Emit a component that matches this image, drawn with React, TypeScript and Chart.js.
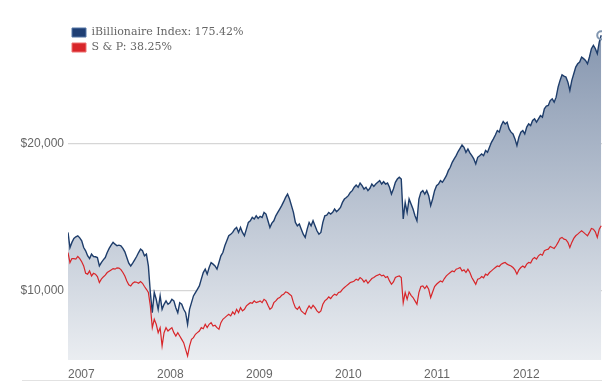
import React, { useEffect, useRef } from "react";
import { Chart, registerables } from "chart.js";

Chart.register(...registerables);

const seriesNames = ["iBillionaire Index: 175.42%", "S & P: 38.25%"];
const yearTicks = [2007, 2008, 2009, 2010, 2011, 2012];
const valueTicks = [10000, 20000];
const startYear = 2007;
const endYear = 2013;
const samplesPerYear = 45.4;

const billionaireValues = [
  13980, 12950, 13300, 13570, 13680, 13750, 13610, 13410, 12950, 12730,
  12390, 12200, 12500, 12340, 12320, 12270, 11700, 11930, 12110, 12270,
  12610, 12890, 13110, 13300, 13180, 13070, 13110, 13070, 12890, 12660,
  12270, 11890, 11700, 11890, 12110, 12340, 12610, 12840, 12730, 12390,
  12500, 11700,
  9890, 8520, 9890, 9430, 8750,
  9660, 8750, 9090, 9320, 9090, 9200, 9430, 9320, 8860, 8520,
  9200, 9090, 8750, 8520, 7730, 8750, 9200, 9660, 9890, 10110,
  10340, 10800, 11250, 11480, 11140, 11590, 11930, 11820, 11700, 11480,
  11930, 12390, 12610, 13070, 13410, 13750, 13860, 13980, 14200, 14320,
  13980, 14320, 13980, 13750, 14200, 14660, 14770, 15000, 14890, 15110,
  14930, 15070, 15000, 15340, 15230, 14770, 14320, 14610, 14770, 15110,
  15340, 15570, 15800, 16070, 16360, 16590, 16250, 15800, 15340, 14660,
  14430, 14550, 14200, 13860, 13640, 14200, 14660, 14430, 14770, 14430,
  14090, 13860, 13980, 14660, 15110, 15160, 15340, 15230, 15340, 15570,
  15390, 15520, 15680, 16020, 16250, 16360, 16480, 16700, 16820, 17050,
  17200, 17050, 17340, 17160, 16930, 17050, 16820, 16980, 17270, 17110,
  17270, 17390, 17500, 17270, 17430, 17270, 17340, 17050, 16590, 16930,
  17390, 17610, 17730, 17610, 14890, 16020, 15340, 16250, 15910, 15570,
  15110, 14770, 16250, 16700, 16820, 16590, 16820, 16480, 15800, 16250,
  16820, 17160, 17270, 17500, 17390, 17610, 17840, 18180, 18410, 18750,
  18980, 19200, 19480, 19700, 19930, 19770, 19430, 19660, 19390, 19200,
  18980, 18640, 19090, 19200, 19320, 19200, 19550, 19430, 19770, 20110,
  20340, 20610, 20910, 20800, 21250, 21520, 21360, 21480, 21020, 20800,
  20680, 20340, 19890, 20450, 20800, 20910, 20680, 21140, 21360, 21250,
  21590, 21700, 21480, 21700, 21930, 21820, 22390, 22570, 22610, 22950,
  23070, 22840, 23180, 23860, 24320, 24700, 24610, 24550, 24200, 23640,
  24320, 24770, 25230, 25450, 25570, 25910, 25800, 25680, 25450, 25910,
  26480, 26700, 26480, 26140, 26930, 27390,
];

const spValues = [
  12610, 11930, 12200, 12200, 12160, 12340, 12200, 11980, 11700, 11200,
  11140, 11360, 11020, 11200, 11140, 10980, 10570, 10800, 10950, 11070,
  11250, 11340, 11430, 11520, 11480, 11570, 11550, 11450, 11250, 11020,
  10680, 10410, 10340, 10520, 10610, 10590, 10520, 10640, 10520, 10300,
  10110, 9890,
  8980, 7500, 8070, 7730, 7160,
  7500, 6250, 7160, 7500, 7270, 7390, 7500, 7160, 6930, 7160,
  6930, 6700, 6480, 6020, 5570, 6250, 6700, 6820, 7050, 7160,
  7270, 7500, 7430, 7730, 7500, 7730, 7840, 7610, 7660, 7500,
  7390, 7840, 8070, 8180, 8300, 8410, 8300, 8570, 8410, 8750,
  8520, 8860, 8640, 8750, 8980, 9090, 9200, 9160, 9320, 9200,
  9250, 9320, 9200, 9430, 9320, 9020, 8750, 8860, 9200, 9320,
  9480, 9550, 9700, 9770, 9930, 9890, 9770, 9660, 9200, 8860,
  8750, 8930, 8640, 8520, 8410, 8750, 8980, 8800, 9020, 8860,
  8640, 8520, 8640, 9090, 9320, 9430, 9590, 9480, 9660, 9770,
  9700, 9890, 9930, 10110, 10230, 10340, 10450, 10570, 10610, 10680,
  10800, 10730, 10910, 10800, 10610, 10750, 10520, 10680, 10840, 10910,
  11020, 11070, 11140, 11020, 11070, 10910, 10980, 10680, 10450, 10610,
  10910, 10980, 11020, 10910, 9200, 9890, 9430, 9930, 9700, 9550,
  9320, 9090, 9890, 10300, 10340, 10160, 10340, 10110, 9550, 9930,
  10300, 10450, 10570, 10680, 10610, 10840, 11020, 11140, 11250, 11360,
  11300, 11480, 11520, 11590, 11360, 11430, 11250, 11480, 11250, 10910,
  10680, 10450, 10800, 10840, 10980, 10890, 11140, 11070, 11250, 11360,
  11480, 11590, 11700, 11660, 11820, 11890, 11930, 11820, 11750, 11700,
  11590, 11430, 11140, 11430, 11590, 11700, 11590, 11820, 11930, 11890,
  12160, 12270, 12160, 12390, 12500, 12430, 12730, 12800, 12840, 13020,
  12950, 12890, 13070, 13300, 13570, 13640, 13520, 13480, 13300, 12950,
  13300, 13570, 13750, 13860, 13980, 14090, 13980, 13860, 13750, 13980,
  14250, 14200, 14020, 13640, 14200, 14430,
];

const toPoints = (vals: number[]) =>
  vals.map((v, i) => ({ x: startYear + i / samplesPerYear, y: v }));

export default function App() {
  const ref = useRef<HTMLCanvasElement>(null);

  useEffect(() => {
    if (!ref.current) return;
    const tickFont = { family: "'Liberation Sans', Arial, sans-serif", size: 12 };

    const bottomRule = {
      id: "bottomRule",
      afterDraw(chart: any) {
        const { ctx } = chart;
        const xs = chart.scales.x;
        const y = Math.round(xs.bottom - 8) + 0.5;
        ctx.save();
        ctx.strokeStyle = "#e2e2e2";
        ctx.lineWidth = 1;
        ctx.beginPath();
        ctx.moveTo(22, y);
        ctx.lineTo(chart.chartArea.right, y);
        ctx.stroke();
        ctx.restore();
      },
    };

    const chart = new Chart(ref.current, {
      type: "line",
      data: {
        datasets: [
          {
            label: seriesNames[0],
            data: toPoints(billionaireValues),
            borderColor: "#1e3d6b",
            borderWidth: 1.4,
            fill: "start",
            backgroundColor: (c: any) => {
              const a = c.chart.chartArea;
              if (!a) return "rgba(130,148,175,0.5)";
              const g = c.chart.ctx.createLinearGradient(0, a.top, 0, a.bottom);
              g.addColorStop(0, "#8293ad");
              g.addColorStop(1, "#eaedf1");
              return g;
            },
            pointRadius: (c: any) => (c.dataIndex === billionaireValues.length - 1 ? 4 : 0),
            pointBorderColor: "#8196b0",
            pointBorderWidth: 2,
            pointBackgroundColor: "rgba(0,0,0,0)",
            tension: 0,
            order: 1,
          },
          {
            label: seriesNames[1],
            data: toPoints(spValues),
            borderColor: "#d8262a",
            borderWidth: 1.2,
            fill: false,
            pointRadius: 0,
            tension: 0,
            order: 0,
          },
        ],
      },
      options: {
        animation: false,
        responsive: true,
        maintainAspectRatio: false,
        events: [],
        layout: { padding: { top: 22, right: 10, left: 0, bottom: 0 } },
        scales: {
          x: {
            type: "linear",
            min: startYear,
            max: endYear,
            afterBuildTicks: (s: any) => {
              s.ticks = yearTicks.map((v) => ({ value: v }));
            },
            afterFit: (s: any) => {
              s.height = 28;
            },
            grid: { display: false, drawTicks: false },
            border: { display: false },
            ticks: {
              align: "start",
              autoSkip: false,
              maxRotation: 0,
              padding: 7,
              color: "#666",
              font: tickFont,
              callback: (v: any) => String(v),
            },
          },
          y: {
            min: 5300,
            max: 28293,
            z: 1,
            afterBuildTicks: (s: any) => {
              s.ticks = valueTicks.map((v) => ({ value: v }));
            },
            afterFit: (s: any) => {
              s.width = 68;
            },
            grid: { color: "rgba(120,120,120,0.3)", lineWidth: 1.2, drawTicks: false },
            border: { display: false },
            ticks: {
              padding: 4,
              color: "#666",
              font: tickFont,
              callback: (v: any) => "$" + Number(v).toLocaleString("en-US"),
            },
          },
        },
        plugins: {
          tooltip: { enabled: false },
          legend: {
            position: "chartArea",
            align: "start",
            title: {
              display: true,
              text: " ",
              font: { size: 1, lineHeight: 1 },
              padding: { top: 22, bottom: 0 },
            },
            labels: {
              boxWidth: 14,
              boxHeight: 9,
              padding: 4,
              color: "#555",
              font: { family: "'DejaVu Serif', serif", size: 11, lineHeight: 1 },
              generateLabels: () => [
                {
                  text: seriesNames[0],
                  fillStyle: "#1f3f74",
                  strokeStyle: "#5577a6",
                  lineWidth: 1,
                  hidden: false,
                  datasetIndex: 0,
                },
                {
                  text: seriesNames[1],
                  fillStyle: "#d8262a",
                  strokeStyle: "#ee7070",
                  lineWidth: 1,
                  hidden: false,
                  datasetIndex: 1,
                },
              ],
            },
          },
        },
      } as any,
      plugins: [bottomRule],
    });
    return () => chart.destroy();
  }, []);

  return (
    <div
      style={{
        position: "fixed",
        left: 0,
        top: 0,
        width: 612,
        height: 388,
        background: "#fff",
      }}
    >
      <canvas ref={ref} />
    </div>
  );
}
